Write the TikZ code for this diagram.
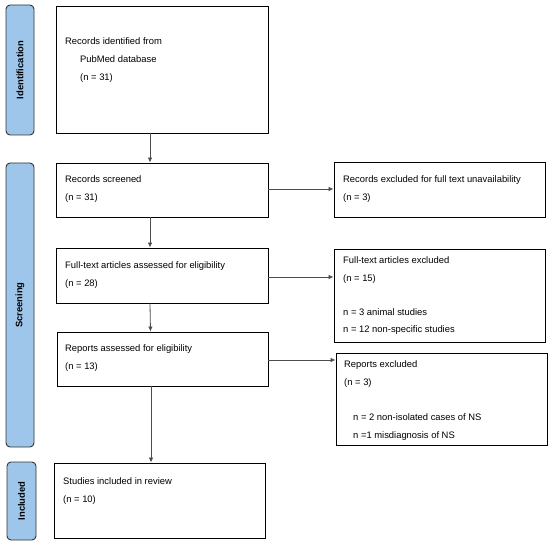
\documentclass[tikz,border=0pt]{standalone}
\usepackage{fontspec}
\setmainfont{Liberation Sans}
\usetikzlibrary{arrows.meta}

\tikzset{
  flowtext/.style={anchor=north west,inner sep=0pt,align=left,
    font=\fontsize{9.4}{18}\selectfont},
  phase/.style={draw=black!80,fill={rgb,255:red,157;green,198;blue,234},
    rounded corners=4pt,line width=0.9pt,rotate=90,
    font=\fontsize{9.4}{11}\selectfont\bfseries}
}

\begin{document}
\begin{tikzpicture}[x=1pt,y=-1pt]

      \useasboundingbox (0,0) rectangle (550,543);

      % phase tabs
      \node[phase,minimum width=130pt,minimum height=28pt] (tabid)  at (20,70)    {Identification};
      \node[phase,minimum width=284pt,minimum height=28pt] (tabscr) at (20,305)   {Screening};
      \node[phase,minimum width=78pt,minimum height=29pt]  (tabinc) at (21.5,501) {Included};

      \begin{scope}[every node/.style={draw,line width=0.9pt,inner sep=0pt}]
        \node[minimum width=212pt,minimum height=127pt] (id)     at (162,69.5)   {};
        \node[minimum width=212pt,minimum height=54pt]  (scr)    at (162,190)    {};
        \node[minimum width=212pt,minimum height=55pt]  (full)   at (162,275.5)  {};
        \node[minimum width=211pt,minimum height=54pt]  (rep)    at (162.5,359)  {};
        \node[minimum width=211pt,minimum height=75pt]  (incl)   at (159.5,500.5) {};
        \node[minimum width=211pt,minimum height=55pt]  (exunav) at (439.5,189.5) {};
        \node[minimum width=211pt,minimum height=93pt]  (exfull) at (439.5,295.5) {};
        \node[minimum width=211pt,minimum height=92pt]  (exrep)  at (441.5,399)  {};
      \end{scope}

      \begin{scope}[every node/.style={flowtext}]
        \node (idtxt)     at (65,37)   {Records identified from\\\hspace{15pt}PubMed database\\\hspace{15pt}(n = 31)};
        \node (scrtxt)    at (65,175)  {Records screened\\(n = 31)};
        \node (fulltxt)   at (65,261)  {Full-text articles assessed for eligibility\\(n = 28)};
        \node (reptxt)    at (65,344)  {Reports assessed for eligibility\\(n = 13)};
        \node (incltxt)   at (63,477)  {Studies included in review\\(n = 10)};
        \node (exunavtxt) at (343,175) {Records excluded for full text unavailability\\(n = 3)};
        \node (exfulltxt) at (343,256) {Full-text articles excluded\\(n = 15)\\[16pt]n = 3 animal studies\\[-1pt]n = 12 non-specific studies};
        \node (exreptxt)  at (344,360) {Reports excluded\\(n = 3)\\[17pt]\hspace{9pt}n = 2 non-isolated cases of NS\\\hspace{9pt}n =1 misdiagnosis of NS};
      \end{scope}

      \begin{scope}[every edge/.style={draw,black!70,line width=0.8pt,-{Latex[length=5pt,width=4.5pt]}}]
        \path ([xshift=-12pt]id.south)   edge ([xshift=-12pt]scr.north);
        \path ([xshift=-12pt]scr.south)  edge ([xshift=-12pt]full.north);
        \path ([xshift=-12pt]full.south) edge ([xshift=-12pt]rep.north);
        \path ([xshift=-11.5pt]rep.south) edge ([xshift=-11.5pt]rep.south |- incl.north);
        \path ([yshift=1pt]scr.east)     edge ([yshift=1pt]scr.east -| exunav.west);
        \path ([yshift=-1.5pt]full.east) edge ([yshift=-1.5pt]full.east -| exfull.west);
        \path ([yshift=-1pt]rep.east)    edge ([yshift=-1pt]rep.east -| exrep.west);
      \end{scope}

    \end{tikzpicture}
\end{document}
